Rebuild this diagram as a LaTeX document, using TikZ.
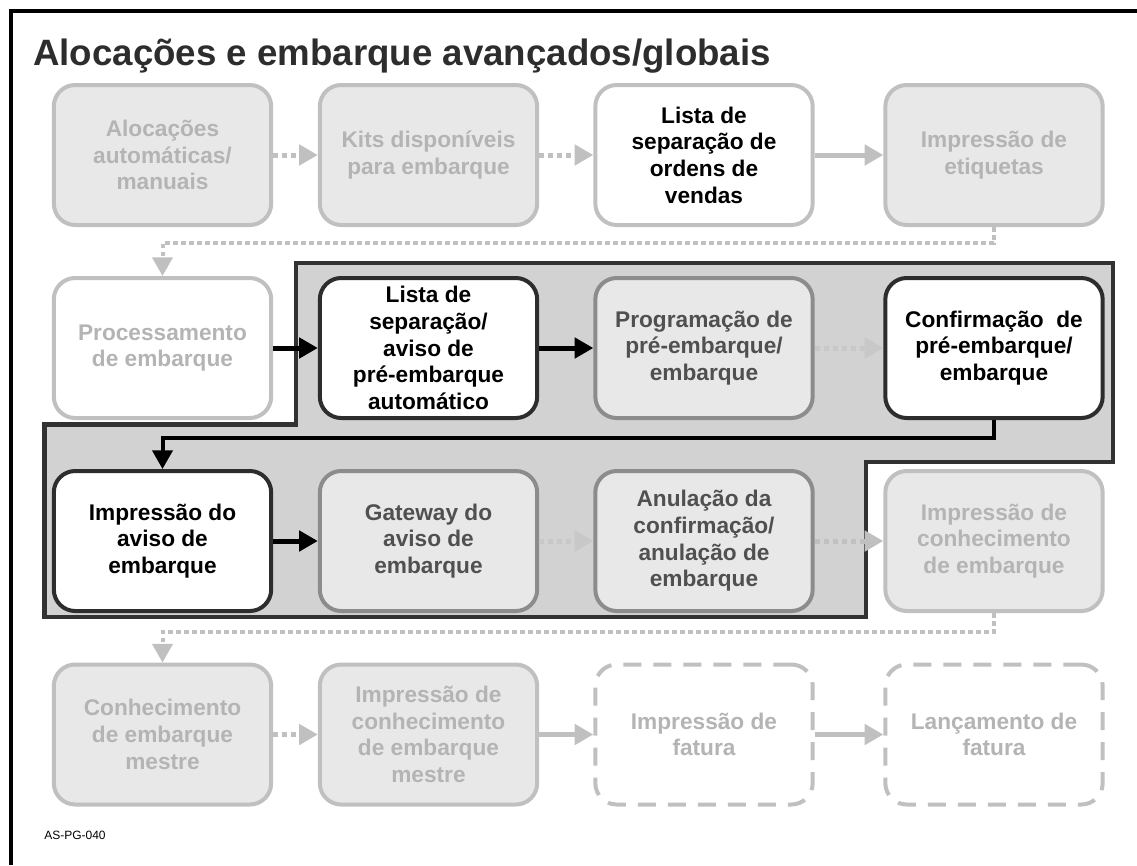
\documentclass[tikz,border=0pt]{standalone}
\usepackage{fontspec}
\setmainfont{Liberation Sans}
\usetikzlibrary{arrows.meta,calc}
\definecolor{fadefill}{RGB}{232,232,232}
\definecolor{fadedraw}{RGB}{192,192,192}
\definecolor{fadetext}{RGB}{180,180,180}
\definecolor{midfill}{RGB}{232,232,232}
\definecolor{middraw}{RGB}{140,140,140}
\definecolor{midtext}{RGB}{80,80,80}
\definecolor{darkdraw}{RGB}{45,45,45}
\definecolor{regionfill}{RGB}{210,210,210}
\definecolor{regiondraw}{RGB}{50,50,50}
\definecolor{titlecol}{RGB}{45,45,45}
\definecolor{arrowgray}{RGB}{192,192,192}
\definecolor{arrowpale}{RGB}{200,200,200}
\begin{document}
\begin{tikzpicture}[x=0.75pt,y=-0.75pt,
  box/.style={rounded corners=16pt, minimum width=163pt, minimum height=105pt,
    align=center, inner sep=0pt, line width=3pt,
    font=\fontsize{17}{20}\selectfont\bfseries},
  fadebox/.style={box, draw=fadedraw, fill=fadefill, text=fadetext},
  fadewhite/.style={box, draw=fadedraw, fill=white, text=fadetext},
  hlbox/.style={box, draw=fadedraw, fill=white, text=black},
  darkbox/.style={box, draw=darkdraw, fill=white, text=black},
  midbox/.style={box, draw=middraw, fill=midfill, text=midtext},
  dashbox/.style={box, draw=fadedraw, fill=white, text=fadetext, dash pattern=on 13.5pt off 9pt},
  tip/.style={-{Triangle[length=14pt,width=15pt]}},
  grayarrow/.style={tip, draw=arrowgray, line width=3.75pt},
  dotarrow/.style={grayarrow, dash pattern=on 3.75pt off 3pt},
  palearrow/.style={tip, draw=arrowpale, line width=3.75pt, dash pattern=on 3.75pt off 3pt},
  blackarrow/.style={tip, draw=black, line width=3.75pt},
  longdot/.style={tip, draw=arrowgray, line width=3pt, dash pattern=on 3.5pt off 2.5pt},
  longblack/.style={tip, draw=black, line width=3pt},
  region/.style={fill=regionfill, draw=regiondraw, line width=3.5pt},
  frameline/.style={draw=black, line width=3pt}
]
\useasboundingbox (0,0) rectangle (1137,865);
% frame
\draw[frameline] (10.5,865) -- (10.5,10.5) -- (1137,10.5);
% title
\node[anchor=base west, inner sep=0pt, text=titlecol, font=\fontsize{27.5}{30}\selectfont\bfseries] (title) at (33,65) {Alocações e embarque avançados/globais};
% highlighted region
\draw[region] (296,263) -- (1113,263) -- (1113,462) -- (866,462) -- (866,617) -- (44.5,617) -- (44.5,424.5) -- (296,424.5) -- cycle;
% row 1
\node[fadebox] (a1) at (162.5,155) {Alocações\\automáticas/\\manuais};
\node[fadebox] (a2) at (428.5,155) {Kits disponíveis\\para embarque};
\node[hlbox] (a3) at (704,155) {Lista de\\separação de\\ordens de\\vendas};
\node[fadebox] (a4) at (994,155) {Impressão de\\etiquetas};
% row 2
\node[fadewhite] (b1) at (162.5,348) {Processamento\\de embarque};
\node[darkbox] (b2) at (428.5,348) {Lista de\\separação/\\aviso de\\pré-embarque\\automático};
\node[midbox] (b3) at (704,348) {Programação de\\pré-embarque/\\embarque};
\node[darkbox] (b4) at (994,348) {Confirmação~ de\\pré-embarque/\\embarque};
% row 3
\node[darkbox] (c1) at (162.5,541) {Impressão do\\aviso de\\embarque};
\node[midbox] (c2) at (428.5,541) {Gateway do\\aviso de\\embarque};
\node[midbox] (c3) at (704,541) {Anulação da\\confirmação/\\anulação de\\embarque};
\node[fadebox] (c4) at (994,541) {Impressão de\\conhecimento\\de embarque};
% row 4
\node[fadebox] (d1) at (162.5,734.5) {Conhecimento\\de embarque\\mestre};
\node[fadebox] (d2) at (428.5,734.5) {Impressão de\\conhecimento\\de embarque\\mestre};
\node[dashbox] (d3) at (704,734.5) {Impressão de\\fatura};
\node[dashbox] (d4) at (994,734.5) {Lançamento de\\fatura};
% connectors row 1
\draw[dotarrow] (a1) -- (a2);
\draw[dotarrow] (a2) -- (a3);
\draw[grayarrow] (a3) -- (a4);
\draw[longdot] (a4.south) -- ++(0,16) -| (b1);
% row 2
\draw[blackarrow] (b1) -- (b2);
\draw[blackarrow] (b2) -- (b3);
\draw[palearrow] (b3) -- (b4);
\draw[longblack] (b4.south) -- ++(0,18) -| (c1);
% row 3
\draw[blackarrow] (c1) -- (c2);
\draw[palearrow] (c2) -- (c3);
\draw[dotarrow] (c3) -- (c4);
\draw[longdot] (c4.south) -- ++(0,19) -| (d1);
% row 4
\draw[dotarrow] (d1) -- (d2);
\draw[grayarrow] (d2) -- (d3);
\draw[grayarrow] (d3) -- (d4);
% code
\node[anchor=base west, inner sep=0pt, font=\fontsize{9}{10}\selectfont] (code) at (44,839) {AS-PG-040};
\end{tikzpicture}
\end{document}
